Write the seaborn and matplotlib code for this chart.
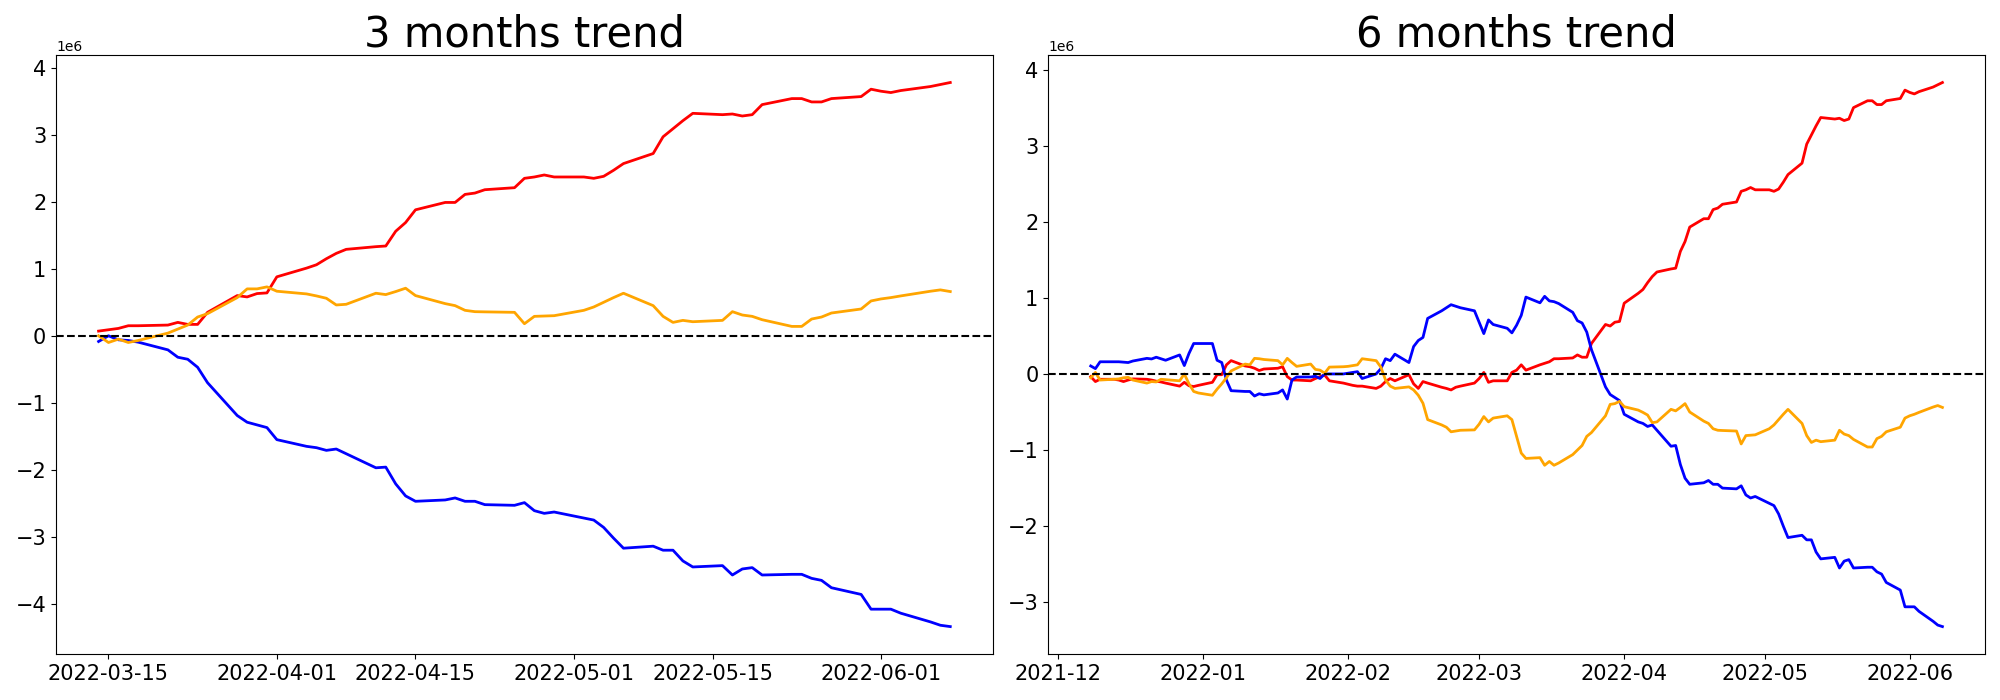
import pandas as pd
import numpy as np
import seaborn as sns
import matplotlib
matplotlib.use('Agg')
import matplotlib.pyplot as plt

# business days of each window
dates_3m = pd.bdate_range('2022-03-14', '2022-06-08')
dates_6m = pd.bdate_range('2021-12-08', '2022-06-08')

# 3 months trend (values in 1e6)
red_3m = [0.07, 0.09, 0.11, 0.15, 0.15,
          0.16, 0.20, 0.17, 0.17, 0.35,
          0.60, 0.58, 0.63, 0.64, 0.88,
          1.01, 1.06, 1.15, 1.23, 1.29,
          1.33, 1.34, 1.56, 1.69, 1.88,
          1.99, 1.99, 2.11, 2.13, 2.18,
          2.21, 2.35, 2.37, 2.40, 2.37,
          2.37, 2.35, 2.38, 2.47, 2.57,
          2.72, 2.97, 3.09, 3.21, 3.32,
          3.30, 3.31, 3.28, 3.30, 3.45,
          3.54, 3.54, 3.49, 3.49, 3.54,
          3.57, 3.68, 3.65, 3.63, 3.66,
          3.72, 3.75, 3.78]
orange_3m = [0.00, -0.10, -0.05, -0.10, -0.07,
             0.04, 0.10, 0.16, 0.28, 0.33,
             0.57, 0.70, 0.70, 0.73, 0.665,
             0.625, 0.595, 0.56, 0.46, 0.47,
             0.635, 0.615, 0.66, 0.71, 0.60,
             0.48, 0.45, 0.38, 0.36, 0.357,
             0.35, 0.18, 0.29, 0.295, 0.30,
             0.38, 0.43, 0.50, 0.57, 0.635,
             0.45, 0.29, 0.20, 0.23, 0.21,
             0.23, 0.36, 0.31, 0.29, 0.24,
             0.14, 0.14, 0.25, 0.28, 0.34,
             0.40, 0.52, 0.55, 0.57, 0.595,
             0.665, 0.685, 0.66]
blue_3m = [-0.085, 0.0, -0.06, -0.07, -0.095,
           -0.21, -0.32, -0.35, -0.47, -0.70,
           -1.19, -1.29, -1.33, -1.37, -1.55,
           -1.65, -1.67, -1.71, -1.69, -1.76,
           -1.97, -1.96, -2.21, -2.39, -2.47,
           -2.45, -2.42, -2.47, -2.47, -2.52,
           -2.53, -2.49, -2.61, -2.65, -2.63,
           -2.72, -2.75, -2.86, -3.02, -3.17,
           -3.14, -3.20, -3.20, -3.36, -3.45,
           -3.43, -3.57, -3.48, -3.46, -3.57,
           -3.56, -3.56, -3.62, -3.65, -3.76,
           -3.86, -4.08, -4.08, -4.08, -4.14,
           -4.27, -4.32, -4.34]

# 6 months trend (values in 1e6)
red_6m = [-0.035, -0.10, -0.07,
          -0.07, -0.08, -0.10, -0.08, -0.065,
          -0.07, -0.08, -0.095, -0.105, -0.12,
          -0.16, -0.11, -0.155, -0.165, -0.15,
          -0.11, -0.01, -0.01, 0.12, 0.175,
          0.105, 0.095, 0.075, 0.045, 0.065,
          0.075, 0.095, -0.035, -0.08, -0.08,
          -0.09, -0.06, -0.035, -0.015, -0.09,
          -0.12, -0.135, -0.15, -0.16, -0.16,
          -0.19, -0.16, -0.10, -0.06, -0.09,
          -0.01, -0.13, -0.19, -0.10, -0.12,
          -0.175, -0.19, -0.21, -0.175, -0.16,
          -0.12, -0.06, 0.02, -0.11, -0.09,
          -0.09, 0.02, 0.05, 0.12, 0.05,
          0.12, 0.14, 0.16, 0.20, 0.20,
          0.21, 0.25, 0.22, 0.22, 0.40,
          0.65, 0.63, 0.68, 0.69, 0.93,
          1.06, 1.11, 1.20, 1.28, 1.34,
          1.38, 1.39, 1.61, 1.74, 1.93,
          2.04, 2.04, 2.16, 2.18, 2.23,
          2.26, 2.40, 2.42, 2.45, 2.42,
          2.42, 2.40, 2.43, 2.52, 2.62,
          2.77, 3.02, 3.14, 3.26, 3.37,
          3.35, 3.36, 3.33, 3.35, 3.50,
          3.59, 3.59, 3.54, 3.54, 3.59,
          3.62, 3.73, 3.70, 3.68, 3.71,
          3.77, 3.80, 3.83]
orange_6m = [-0.05, 0.02, -0.08,
             -0.07, -0.065, -0.05, -0.045, -0.08,
             -0.12, -0.10, -0.105, -0.07, -0.075,
             -0.09, 0.0, -0.13, -0.23, -0.25,
             -0.28, -0.20, -0.13, -0.05, 0.04,
             0.13, 0.12, 0.205, 0.20, 0.19,
             0.175, 0.12, 0.205, 0.15, 0.10,
             0.13, 0.06, 0.05, 0.01, 0.09,
             0.095, 0.10, 0.11, 0.12, 0.20,
             0.175, 0.09, -0.08, -0.16, -0.19,
             -0.17, -0.21, -0.28, -0.385, -0.60,
             -0.67, -0.70, -0.76, -0.75, -0.74,
             -0.735, -0.66, -0.56, -0.63, -0.58,
             -0.55, -0.60, -0.82, -1.04, -1.11,
             -1.10, -1.20, -1.15, -1.20, -1.17,
             -1.06, -1.00, -0.94, -0.82, -0.77,
             -0.55, -0.40, -0.39, -0.36, -0.43,
             -0.475, -0.505, -0.54, -0.64, -0.63,
             -0.465, -0.485, -0.44, -0.39, -0.50,
             -0.62, -0.65, -0.72, -0.74, -0.743,
             -0.75, -0.92, -0.81, -0.805, -0.80,
             -0.72, -0.67, -0.60, -0.53, -0.465,
             -0.65, -0.81, -0.90, -0.87, -0.89,
             -0.87, -0.74, -0.79, -0.81, -0.86,
             -0.96, -0.96, -0.85, -0.82, -0.76,
             -0.70, -0.58, -0.55, -0.53, -0.505,
             -0.435, -0.415, -0.44]
blue_6m = [0.105, 0.07, 0.16,
           0.16, 0.16, 0.155, 0.15, 0.17,
           0.205, 0.197, 0.22, 0.20, 0.18,
           0.25, 0.11, 0.27, 0.40, 0.40,
           0.40, 0.18, 0.15, -0.08, -0.22,
           -0.23, -0.23, -0.29, -0.26, -0.275,
           -0.25, -0.21, -0.33, -0.08, -0.04,
           -0.04, -0.03, -0.06, 0.0, 0.0,
           0.0, 0.01, 0.02, 0.03, -0.06,
           0.0, 0.07, 0.20, 0.175, 0.26,
           0.15, 0.36, 0.44, 0.48, 0.73,
           0.83, 0.87, 0.91, 0.89, 0.87,
           0.83, 0.68, 0.53, 0.71, 0.65,
           0.60, 0.54, 0.64, 0.77, 1.01,
           0.935, 1.02, 0.96, 0.95, 0.925,
           0.81, 0.70, 0.67, 0.55, 0.32,
           -0.17, -0.27, -0.31, -0.35, -0.53,
           -0.63, -0.65, -0.69, -0.67, -0.74,
           -0.95, -0.94, -1.19, -1.37, -1.45,
           -1.43, -1.40, -1.45, -1.45, -1.50,
           -1.51, -1.47, -1.59, -1.63, -1.61,
           -1.70, -1.73, -1.84, -2.00, -2.15,
           -2.12, -2.18, -2.18, -2.34, -2.43,
           -2.41, -2.55, -2.46, -2.44, -2.55,
           -2.54, -2.54, -2.60, -2.63, -2.74,
           -2.84, -3.06, -3.06, -3.06, -3.12,
           -3.25, -3.30, -3.32]

panels = [
    ('3 months trend', dates_3m, red_3m, orange_3m, blue_3m),
    ('6 months trend', dates_6m, red_6m, orange_6m, blue_6m),
]

fig, axes = plt.subplots(1, 2, figsize=(20, 7), dpi=100)
plt.subplots_adjust(left=0.028, right=0.9925, top=0.921, bottom=0.066, wspace=0.059)

for ax, (title, dates, red, orange, blue) in zip(axes, panels):
    df = pd.DataFrame({'date': dates,
                       'red': np.array(red) * 1e6,
                       'orange': np.array(orange) * 1e6,
                       'blue': np.array(blue) * 1e6})
    sns.lineplot(data=df, x='date', y='red', color='red', linewidth=2, ax=ax)
    sns.lineplot(data=df, x='date', y='blue', color='blue', linewidth=2, ax=ax)
    sns.lineplot(data=df, x='date', y='orange', color='orange', linewidth=2, ax=ax)
    ax.axhline(0, color='black', linestyle='--', linewidth=1.5)
    ax.set_title(title, fontsize=30)
    ax.set_xlabel('')
    ax.set_ylabel('')
    ax.tick_params(axis='both', labelsize=15)

fig.savefig('out.png')
